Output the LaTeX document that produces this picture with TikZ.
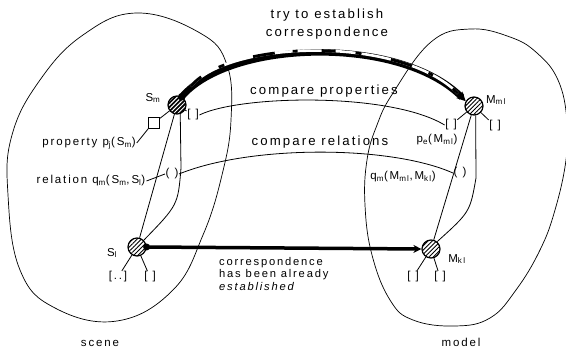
\documentclass[tikz,border=0pt]{standalone}
\usepackage{fontspec}
\setmainfont[LetterSpace=16]{Liberation Sans}
\usetikzlibrary{patterns.meta,arrows.meta}
\begin{document}
\begin{tikzpicture}[x=1pt,y=-1pt,
  hatch/.style={circle, draw, line width=1.2pt, minimum size=18pt, inner sep=0pt,
    pattern={Lines[angle=45,distance=3pt,line width=0.9pt]}},
  darkhatch/.style={hatch, preaction={fill=black}, pattern color=white},
  lbl/.style={inner sep=1pt, font=\fontsize{11.5}{13}\selectfont},
  big/.style={inner sep=1pt, font=\fontsize{13.2}{18}\selectfont},
  brk/.style={inner sep=0.5pt, font=\fontsize{11.5}{12}\selectfont},
  link/.style={line width=0.8pt},
  ell/.style={line width=0.7pt}]
\useasboundingbox (0,0) rectangle (566,355);

% scene and model regions
\draw[ell] plot[smooth cycle, tension=0.7] coordinates {(137,13) (200,33) (227,65) (231,120) (222,175) (203,235) (173,290) (117,321) (55,308) (20,270) (8,195) (12,135) (40,80) (83,35)};
\draw[ell] plot[smooth cycle, tension=0.7] coordinates {(470,29) (510,37) (537,53) (558,80) (567,120) (566,160) (555,210) (540,250) (516,290) (490,318) (455,326) (413,320) (390,300) (372,255) (365,205) (367,160) (377,125) (393,93) (431,42)};

% elements
\node[darkhatch] (Sm) at (177,105) {};
\node[hatch] (Sl) at (137,247) {};
\node[hatch] (Mm) at (474,106) {};
\node[hatch] (Mk) at (431,249) {};

\node[lbl] (Smlab) at (153,98) {S\textsubscript{m}};
\node[lbl] (Sllab) at (112,253) {S\textsubscript{l}};
\node[lbl] (Mmlab) at (496,100) {M\textsubscript{ml}};
\node[lbl] (Mklab) at (457,259) {M\textsubscript{kl}};

% properties / relations
\node[draw, line width=0.9pt, minimum size=11pt, inner sep=0pt] (sq) at (154,123) {};
\node[brk] (smp) at (193,115) {[ ]};
\node[brk] (slc1) at (118,277) {[..]};
\node[brk] (slc2) at (150,277) {[ ]};
\node[brk] (mkc1) at (413,277) {[ ]};
\node[brk] (mkc2) at (440,277) {[ ]};
\node[brk] (mmp) at (451,125) {[ ]};
\node[brk] (mmc2) at (495,126) {[ ]};
\node[brk] (srel) at (172,174) {( )};
\node[brk] (mrel) at (460,173) {( )};
\coordinate (srelc) at (181,168);
\coordinate (mrelc) at (476,178);

\draw[link] (Sm) -- (sq);
\draw[link] (Sm) -- (smp);
\draw[link] (Sl) -- (slc1);
\draw[link] (Sl) -- (slc2);
\draw[link] (Mk) -- (mkc1);
\draw[link] (Mk) -- (mkc2);
\draw[link] (Mm) -- (mmp);
\draw[link] (Mm) -- (mmc2);

\draw[link] (Sm) -- (Sl);
\draw[link] (Sm.-70) -- (srelc) .. controls (178,205) .. (Sl.45);
\draw[link] (Mm) -- (Mk);
\draw[link] (Mm.-80) -- (mrelc) .. controls (470,212) .. (Mk.50);

% labels with leaders
\node[lbl] (proplab) at (89,143) {property p\textsubscript{j}(S\textsubscript{m})};
\node[lbl] (rellab) at (91,181) {relation q\textsubscript{m}(S\textsubscript{m},S\textsubscript{l})};
\draw[link] (proplab.east) -- (sq.south west);
\draw[link] (rellab.east) -- (srel.west);
\node[lbl] (mplab) at (437,140) {p\textsubscript{e}(M\textsubscript{ml})};
\node[lbl] (mrlab) at (403,177) {q\textsubscript{m}(M\textsubscript{ml},M\textsubscript{kl})};

% compare arcs
\draw[link] (smp.east) .. controls (240,95) and (390,92) .. (mmp.west);
\draw[link] (srel.east) .. controls (250,145) and (390,145) .. (mrel.west);
\node[big] (cp) at (324,91) {compare properties};
\node[big] (cr) at (320,142) {compare relations};

% try to establish correspondence
\draw[line width=6.5pt, -{Stealth[length=9pt,width=9pt]}] (Sm.60) .. controls (230,40) and (400,35) .. (Mm.150);
\draw[white, line width=2.6pt, shorten <=14pt, shorten >=11pt] (Sm.60) .. controls (230,40) and (400,35) .. (Mm.150);
\draw[black, line width=2.8pt, shorten <=14pt, shorten >=11pt, dash pattern=on 14pt off 20pt on 6pt off 30pt on 22pt off 18pt on 5pt off 24pt] (Sm.60) .. controls (230,40) and (400,35) .. (Mm.150);
\fill (Sm.60) circle (3.8pt);
\node[big, align=center] (title) at (327,24) {try to establish\\correspondence};

% established correspondence
\draw[line width=3.5pt, -{Stealth[length=8pt,width=8pt]}] (Sl.east) -- (Mk.west);
\fill (Sl.east) circle (3.5pt);
\node[lbl, anchor=north west, align=left, font=\fontsize{11.2}{12.5}\selectfont] (est) at (218,256) {correspondence\\has been already\\\textit{established}};

\node[lbl] (scene) at (100,343) {scene};
\node[lbl] (model) at (461,342) {model};
\end{tikzpicture}
\end{document}
